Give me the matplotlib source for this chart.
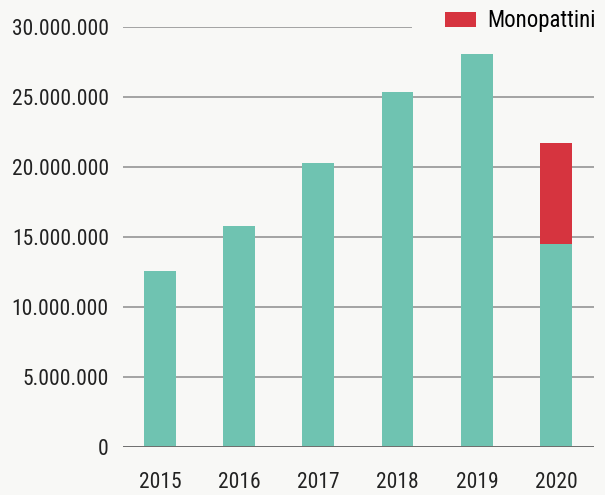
import matplotlib.pyplot as plt

anni = ['2015', '2016', '2017', '2018', '2019', '2020']
altri = [12570000, 15800000, 20300000, 25400000, 28100000, 14500000]
monopattini = [0, 0, 0, 0, 0, 7200000]

plt.rcParams['font.family'] = ['Roboto Condensed', 'DejaVu Sans']

verde = '#6fc3b1'
rosso = '#d6343f'
sfondo = '#f8f8f6'

fig = plt.figure(figsize=(6.05, 4.95), dpi=100, facecolor=sfondo)
ax = fig.add_axes([0.203, 0.097, 0.779, 0.848])
ax.set_facecolor(sfondo)

x = range(len(anni))
ax.bar(x, altri, width=0.4, color=verde, zorder=3)
ax.bar(x, monopattini, width=0.4, bottom=altri, color=rosso, zorder=3,
       label='Monopattini')

ax.set_xlim(-0.467, 5.48)
ax.set_ylim(0, 30000000)
ticks = [0, 5000000, 10000000, 15000000, 20000000, 25000000, 30000000]
ax.set_yticks(ticks)
ax.set_yticklabels([f'{t:,}'.replace(',', '.') for t in ticks])
ax.set_xticks(list(x))
ax.set_xticklabels(anni)
ax.tick_params(length=0, labelsize=15.5, colors='#222222')
ax.tick_params(axis='y', pad=10)
ax.tick_params(axis='x', pad=18)

# griglia (la riga dei 30 milioni si ferma prima della legenda)
for t in ticks[1:-1]:
    ax.axhline(t, color='#a3a3a3', lw=1.4, zorder=1)
ax.axhline(ticks[-1], xmax=0.611, color='#a3a3a3', lw=1.4, zorder=1)
ax.axhline(0, color='#6e6e6e', lw=1.4, zorder=4)

for s in ax.spines.values():
    s.set_visible(False)

ax.legend(loc='center right', bbox_to_anchor=(596 / 605, 0.958),
          bbox_transform=fig.transFigure, frameon=False, fontsize=16.4,
          handlelength=1.36, handleheight=0.62, handletextpad=0.5,
          borderaxespad=0, borderpad=0)

plt.savefig('out.png', dpi=100, facecolor=fig.get_facecolor())
